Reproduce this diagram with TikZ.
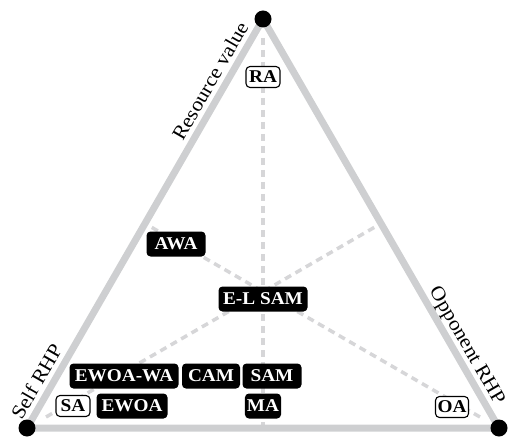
\documentclass[tikz,border=0pt]{standalone}
\usepackage{fontspec}
\setmainfont{Liberation Serif}
\newfontfamily\boxfont{Liberation Serif}[FakeStretch=1.07]
\newfontfamily\axisfont{Liberation Serif}[FakeStretch=1.08]
\usetikzlibrary{calc}
\definecolor{edgegray}{RGB}{206,207,209}
\definecolor{dashgray}{RGB}{214,214,216}
\begin{document}
\begin{tikzpicture}[x=1pt,y=-1pt,
  boxtext/.style={font=\boxfont\bfseries\fontsize{18}{20}\selectfont},
  blackbox/.style={boxtext, fill=black, text=white, rounded corners=4pt, inner sep=2pt, minimum height=25pt},
  whitebox/.style={boxtext, fill=white, draw=black, text=black, line width=1.1pt, rounded corners=4pt, inner sep=1.5pt, minimum height=21pt},
  vdot/.style={circle, fill=black, minimum size=17pt, inner sep=0pt},
  sideline/.style={draw=edgegray, line width=7pt, line join=miter},
  median/.style={draw=dashgray, line width=3.5pt, dash pattern=on 7pt off 5pt},
  axislabel/.style={font=\axisfont\fontsize{20}{22}\selectfont, sloped, anchor=base, yshift=8pt, inner sep=0pt}
]
\useasboundingbox (0,0) rectangle (513,438);
% vertices
\coordinate (T) at (263,19);
\coordinate (L) at (27,428);
\coordinate (R) at (499,428);
\coordinate (mb) at ($(L)!0.5!(R)$);
\coordinate (ml) at ($(L)!0.5!(T)$);
\coordinate (mr) at ($(R)!0.5!(T)$);
% medians
\draw[median] ($(T)!19pt!(mb)$) -- (mb);
\draw[median] ($(L)!22pt!(mr)$) -- (mr);
\draw[median] ($(R)!22pt!(ml)$) -- (ml);
% triangle
\draw[sideline] (L) -- (T) -- (R) -- cycle;
\node[vdot] (dT) at (T) {};
\node[vdot] (dL) at (L) {};
\node[vdot] (dR) at (R) {};
% axis labels
\path (dL.center) -- (dT.center) node[axislabel, pos=0.83] (lres) {Resource value};
\path (dL.center) -- (dT.center) node[axislabel, pos=0.095] (lself) {Self RHP};
\path (dT.center) -- (dR.center) node[axislabel, pos=0.815] (lopp) {Opponent RHP};
% strategy boxes
\node[whitebox, minimum width=34pt] (ra) at (263,77) {RA};
\node[blackbox, minimum width=59pt] (awa) at (176,244) {AWA};
\node[blackbox, minimum width=89pt] (elsam) at (263,299) {E-L SAM};
\node[blackbox, minimum width=109pt] (ewoawa) at (124,376) {EWOA-WA};
\node[blackbox, minimum width=58pt] (cam) at (211,376) {CAM};
\node[blackbox, minimum width=59pt] (sam) at (272,376) {SAM};
\node[whitebox, minimum width=34pt] (sa) at (73,406) {SA};
\node[blackbox, minimum width=71pt] (ewoa) at (132,406) {EWOA};
\node[blackbox, minimum width=35pt] (ma) at (263,406) {MA};
\node[whitebox, minimum width=33pt] (oa) at (452,407) {OA};
\end{tikzpicture}
\end{document}
